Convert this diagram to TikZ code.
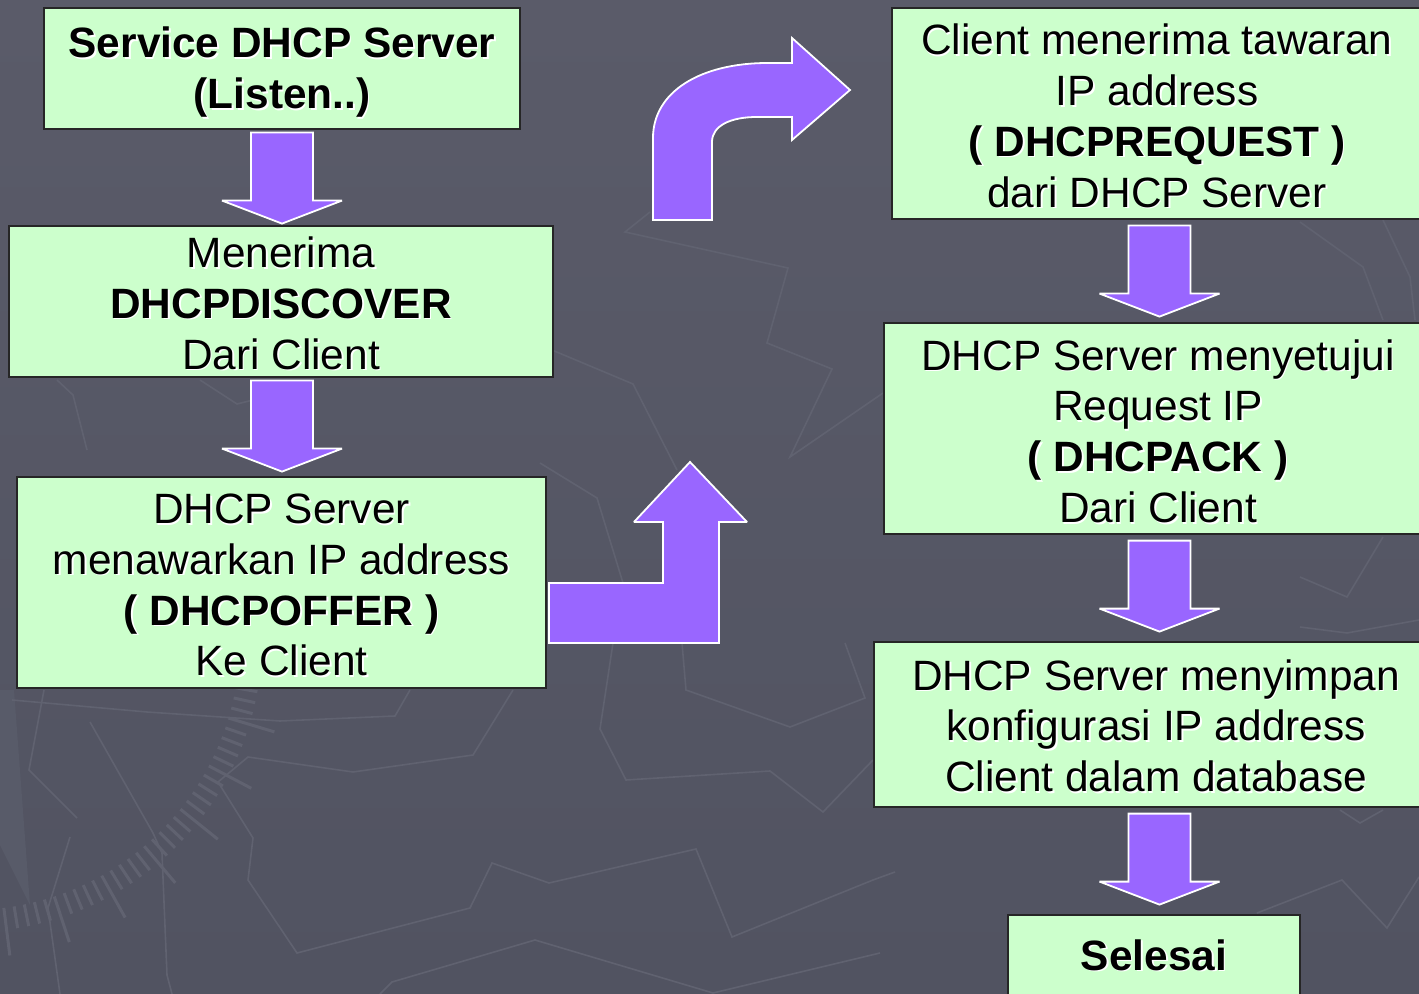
\documentclass[tikz,border=0pt]{standalone}
\usepackage{fontspec}
\setmainfont{Liberation Sans}
\usetikzlibrary{calc}

\definecolor{bgtop}{RGB}{90,91,105}
\definecolor{bgbot}{RGB}{81,83,97}
\definecolor{mapline}{RGB}{96,98,112}
\definecolor{boxfill}{RGB}{204,255,204}
\definecolor{arrowfill}{RGB}{153,102,255}

% one line of text with a light drop shadow
\newcommand\sh[1]{\rlap{\kern0.8pt\raisebox{-0.8pt}{\color{white}#1}}#1}

\tikzset{
  stepbox/.style={draw=black!85, line width=0.6pt, fill=boxfill, inner sep=0pt},
  steptext/.style={inner sep=0pt, align=center, font=\fontsize{21.2}{25.4}\selectfont},
  blockarrow/.style={fill=arrowfill, draw=white, line width=0.9pt, line join=miter, miter limit=2.5},
  mapstroke/.style={draw=mapline, line width=0.8pt, line join=miter},
  downarrow/.pic={\draw[blockarrow] (-31,0) -- (31,0) -- (31,68) -- (60,68) -- (0,91)
      -- (-60,68) -- (-31,68) -- cycle;}
}

\begin{document}
\begin{tikzpicture}[x=0.5pt, y=-0.5pt]
% page and background
\useasboundingbox (0,0) rectangle (1419,994);
\shade[top color=bgtop, bottom color=bgbot] (0,0) rectangle (1419,994);

% faint map lines in the background
\fill[mapline!50!bgbot] (0,690) -- (14,690) -- (30,905) -- (0,845) -- cycle;
\draw[mapstroke] (650,212) -- (625,232) -- (788,268) -- (767,343) -- (832,369) -- (790,457) -- (883,393);
\draw[mapstroke] (540,345) -- (633,384) -- (677,470);
\draw[mapstroke] (540,463) -- (597,498) -- (623,583);
\draw[mapstroke] (613,643) -- (600,729) -- (626,780) -- (770,771) -- (823,812) -- (873,760);
\draw[mapstroke] (682,643) -- (686,690) -- (790,727) -- (865,698) -- (845,643);
\draw[mapstroke] (12,700) -- (147,712) -- (280,721) -- (395,716) -- (410,690);
\draw[mapstroke] (513,690) -- (473,755) -- (353,772) -- (248,757) -- (218,782) -- (253,838)
   -- (248,880) -- (297,953) -- (470,908) -- (492,863) -- (549,883) -- (696,849) -- (732,937)
   -- (873,880) -- (895,872);
\draw[mapstroke] (380,994) -- (392,982) -- (535,940) -- (713,993) -- (880,953);
\draw[mapstroke] (44,690) -- (29,770) -- (77,818);
\draw[mapstroke] (90,722) -- (153,833) -- (162,853) -- (167,975) -- (172,994);
\draw[mapstroke] (70,837) -- (48,908) -- (60,994);
\draw[mapstroke] (1257,913) -- (1342,880) -- (1387,928) -- (1419,877);
\draw[mapstroke] (1340,810) -- (1360,823) -- (1383,810);
\draw[mapstroke] (57,380) -- (73,395) -- (87,450);
\draw[mapstroke] (200,380) -- (237,404) -- (253,400);
\draw[mapstroke] (1300,222) -- (1363,267) -- (1383,320);
\draw[mapstroke] (1383,220) -- (1410,277) -- (1415,320);
\draw[mapstroke] (1300,577) -- (1347,597) -- (1383,537);
\draw[mapstroke] (1300,627) -- (1347,633) -- (1419,620);
% compass scale
\foreach \a [count=\i] in {8,10.2,...,98} {
  \pgfmathsetmacro\outer{mod(\i,5)==0 ? 318 : 292}
  \draw[draw=mapline, line width=1.5pt] ($(-30,640)+(\a:270)$) -- ($(-30,640)+(\a:\outer)$);
}

% steps, left column
\node[stepbox, minimum width=476*0.5pt, minimum height=121*0.5pt] (s1) at (282,68.5) {};
\node[steptext] (t1) at ($(s1.center)+(0,4.5)$)
  {\sh{\textbf{Service DHCP Server}}\\\sh{\textbf{(Listen..)}}};
\node[stepbox, minimum width=544*0.5pt, minimum height=151*0.5pt] (s2) at (281,301.5) {};
\node[steptext] (t2) at ($(s2.center)+(0,2.5)$)
  {\sh{Menerima}\\\sh{\textbf{DHCPDISCOVER}}\\\sh{Dari Client}};
\node[stepbox, minimum width=529*0.5pt, minimum height=211*0.5pt] (s3) at (281.5,582.5) {};
\node[steptext] (t3) at ($(s3.center)+(0,3.5)$)
  {\sh{DHCP Server}\\\sh{menawarkan IP address}\\\sh{\textbf{( DHCPOFFER )}}\\\sh{Ke Client}};

% steps, right column
\node[stepbox, minimum width=530*0.5pt, minimum height=211*0.5pt] (s4) at (1157,113.5) {};
\node[steptext] (t4) at ($(s4.center)+(0,3)$)
  {\sh{Client menerima tawaran}\\\sh{IP address}\\\sh{\textbf{( DHCPREQUEST )}}\\\sh{dari DHCP Server}};
\node[stepbox, minimum width=548*0.5pt, minimum height=211*0.5pt] (s5) at (1158,428.5) {};
\node[steptext] (t5) at ($(s5.center)+(0,3.5)$)
  {\sh{DHCP Server menyetujui}\\\sh{Request IP}\\\sh{\textbf{( DHCPACK )}}\\\sh{Dari Client}};
\node[stepbox, minimum width=564*0.5pt, minimum height=165*0.5pt] (s6) at (1156,724.5) {};
\node[steptext] (t6) at ($(s6.center)+(0,2)$)
  {\sh{DHCP Server menyimpan}\\\sh{konfigurasi IP address}\\\sh{Client dalam database}};
\node[stepbox, minimum width=292*0.5pt, minimum height=80*0.5pt] (s7) at (1154,955) {};
\node[steptext] (t7) at ($(s7.center)+(0,1)$) {\sh{\textbf{Selesai}}};

% block arrows between the steps
\pic at ($(s1.south)+(0,3)$) {downarrow};
\pic at ($(s2.south)+(1,3)$) {downarrow};
\pic at ($(s4.south)+(2.5,6)$) {downarrow};
\pic at ($(s5.south)+(1.5,6)$) {downarrow};
\pic at ($(s6.south)+(3.5,6)$) {downarrow};

% bent arrow leaving the offer step
\draw[blockarrow] (549,583) -- (663,583) -- (663,522) -- (634,522) -- (690,462) -- (747,522)
  -- (719,522) -- (719,643) -- (549,643) -- cycle;

% curved arrow turning towards the request step
\draw[blockarrow] (653,220) -- (653,138)
  .. controls (653,92) and (700,63) .. (768,63) -- (792,63) -- (792,38) -- (850,90)
  -- (792,140) -- (792,117) -- (757,117)
  .. controls (730,117) and (712,126) .. (712,142) -- (712,220) -- cycle;
\end{tikzpicture}
\end{document}
